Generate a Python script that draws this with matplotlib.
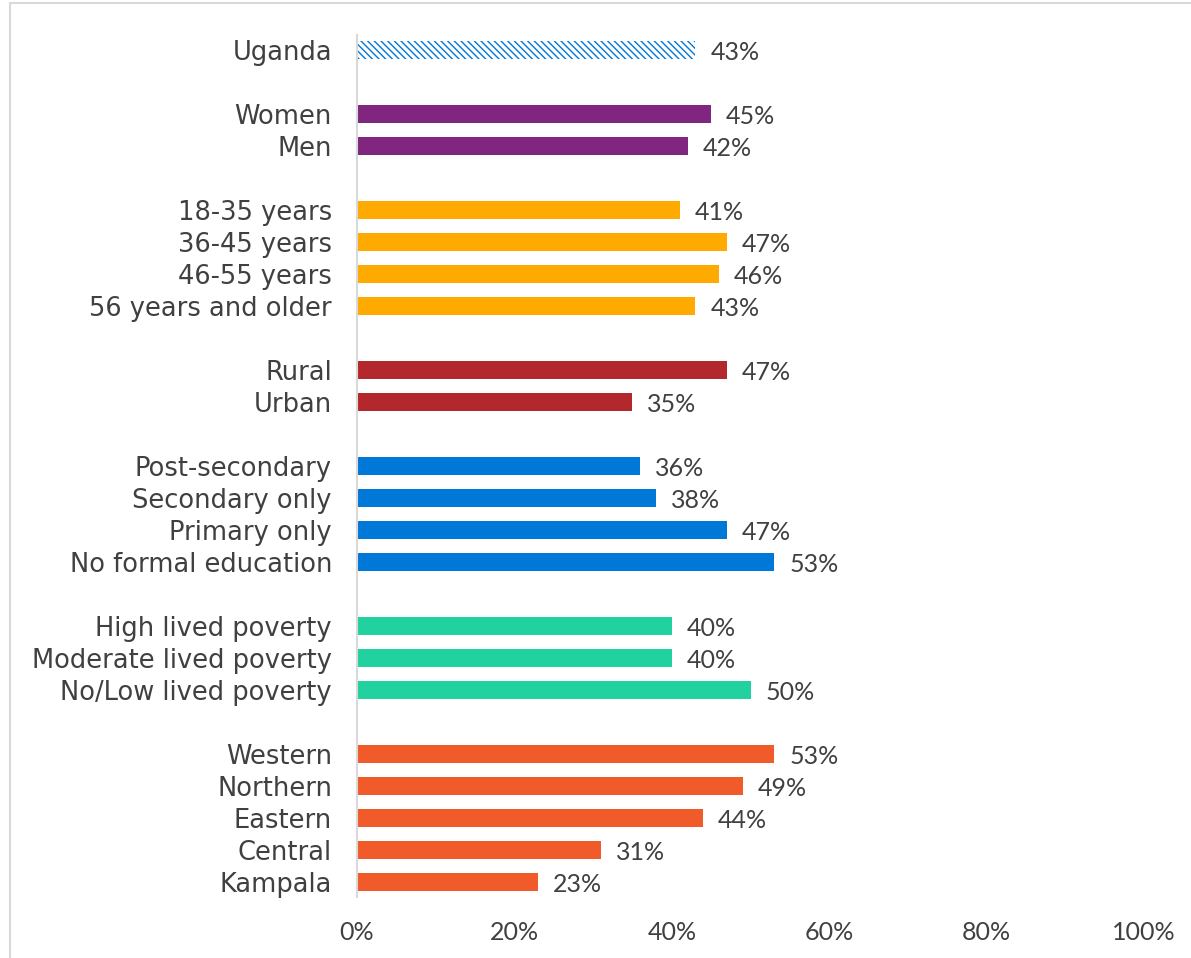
import matplotlib
matplotlib.use("Agg")
import matplotlib.pyplot as plt
from matplotlib.patches import Rectangle

categories = ["Uganda",
              "Women", "Men",
              "18-35 years", "36-45 years", "46-55 years", "56 years and older",
              "Rural", "Urban",
              "Post-secondary", "Secondary only", "Primary only", "No formal education",
              "High lived poverty", "Moderate lived poverty", "No/Low lived poverty",
              "Western", "Northern", "Eastern", "Central", "Kampala"]
values = [43,
          45, 42,
          41, 47, 46, 43,
          47, 35,
          36, 38, 47, 53,
          40, 40, 50,
          53, 49, 44, 31, 23]
group_sizes = [1, 2, 4, 2, 4, 3, 5]
group_colors = ["#0078D7", "#80267F", "#FFAA00", "#B3282D", "#0078D7", "#21D19F", "#F15A29"]
x_ticks = [0, 20, 40, 60, 80, 100]
x_tick_labels = ["0%", "20%", "40%", "60%", "80%", "100%"]

plt.rcParams['font.family'] = ['Lato', 'DejaVu Sans']
text_color = "#404040"

fig = plt.figure(figsize=(11.91, 9.58), dpi=100)
W, H = 1191, 958
ax = fig.add_axes([357 / W, 1 - 897 / H, (1144 - 357) / W, (897 - 35) / H])

# positions with a blank slot between groups
positions = []
colors = []
pos = 0
for gi, n in enumerate(group_sizes):
    for k in range(n):
        positions.append(pos)
        colors.append(group_colors[gi])
        pos += 1
    pos += 1

for i, (p, v, c) in enumerate(zip(positions, values, colors)):
    if i == 0:
        ax.barh(p, v, height=0.56, color="white", edgecolor=c, linewidth=0,
                hatch="\\\\\\\\\\")
    else:
        ax.barh(p, v, height=0.56, color=c, linewidth=0)
    ax.text(v + 1.9, p + 0.08, f"{v}%", va="center", ha="left", fontsize=18,
            color=text_color)

ax.set_xlim(0, 100)
ax.set_ylim(26.47, -0.47)
ax.set_yticks(positions)
ax.set_yticklabels(categories, fontsize=18.5, color=text_color,
                   family=['DejaVu Sans'])
ax.set_xticks(x_ticks)
ax.set_xticklabels(x_tick_labels, fontsize=18, color=text_color)
ax.tick_params(axis="y", length=0, pad=18)
ax.tick_params(axis="x", length=0, pad=17)
for s in ["top", "right", "bottom"]:
    ax.spines[s].set_visible(False)
ax.spines["left"].set_color("#D9D9D9")
ax.spines["left"].set_linewidth(1.5)

fig.patches.append(Rectangle((10 / W, -0.1), 1.2, 1 - 3 / H + 0.1,
                             transform=fig.transFigure, fill=False,
                             edgecolor="#D9D9D9", linewidth=1.5))

fig.savefig("out.png", dpi=100)
